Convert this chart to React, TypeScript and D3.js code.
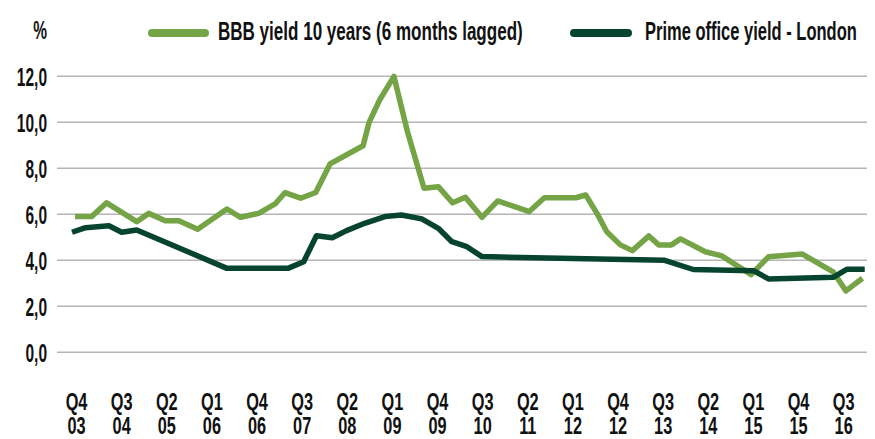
import React from "react";
import * as d3 from "d3";

// quarter index 0 = Q4 2003
const bbbYield: [number, number][] = [
  [-0.1, 5.9], [1.0, 5.9], [2.0, 6.5], [4.0, 5.68], [4.8, 6.04], [5.9, 5.72], [6.8, 5.72],
  [8.05, 5.35], [10.0, 6.23], [10.9, 5.87], [12.1, 6.04], [13.2, 6.45], [13.85, 6.94],
  [14.9, 6.7], [15.9, 6.95], [16.85, 8.19], [19.05, 8.98], [19.45, 10.0], [20.15, 10.97],
  [21.1, 12.0], [22.0, 9.59], [23.1, 7.13], [24.05, 7.2], [25.0, 6.5], [25.85, 6.74],
  [26.95, 5.87], [28.0, 6.58], [30.1, 6.12], [31.1, 6.72], [33.2, 6.72], [33.85, 6.84],
  [34.6, 6.04], [35.25, 5.24], [36.15, 4.67], [36.95, 4.42], [38.05, 5.06], [38.7, 4.67],
  [39.55, 4.67], [40.15, 4.93], [41.8, 4.37], [42.9, 4.19], [44.85, 3.38], [46.0, 4.15],
  [48.25, 4.27], [50.3, 3.5], [51.15, 2.67], [52.25, 3.22],
];

const primeOffice: [number, number][] = [
  [-0.3, 5.22], [0.6, 5.42], [2.15, 5.5], [3.0, 5.22], [4.0, 5.32], [10.0, 3.65],
  [14.05, 3.65], [15.1, 3.94], [15.95, 5.07], [17.0, 4.98], [17.95, 5.29], [19.15, 5.61],
  [20.5, 5.9], [21.6, 5.97], [22.95, 5.8], [24.05, 5.39], [24.95, 4.81], [25.95, 4.59],
  [26.95, 4.16], [39.1, 4.0], [41.0, 3.6], [45.0, 3.55], [46.0, 3.19], [50.3, 3.26],
  [51.2, 3.61], [52.4, 3.61],
];

const xTickLabels = [
  ["Q4", "03"], ["Q3", "04"], ["Q2", "05"], ["Q1", "06"], ["Q4", "06"], ["Q3", "07"],
  ["Q2", "08"], ["Q1", "09"], ["Q4", "09"], ["Q3", "10"], ["Q2", "11"], ["Q1", "12"],
  ["Q4", "12"], ["Q3", "13"], ["Q2", "14"], ["Q1", "15"], ["Q4", "15"], ["Q3", "16"],
];
const yTicks = [0, 2, 4, 6, 8, 10, 12];

const seriesNames = ["BBB yield 10 years (6 months lagged)", "Prime office yield - London"];

const GREEN = "#74a446";
const DARK = "#07442d";
const FONT = "'Liberation Sans', Arial, sans-serif";

// squeeze factor so a legend string fits the width seen in the reference
function fitScale(str: string, size: number, target: number) {
  const ctx = document.createElement("canvas").getContext("2d");
  if (!ctx) return 0.6;
  ctx.font = `bold ${size}px ${FONT}`;
  return target / ctx.measureText(str).width;
}

function Label({ x, y, anchor, children, sx = 0.68, size = 24 }: any) {
  return (
    <text
      transform={`translate(${x},${y}) scale(${sx},1)`}
      textAnchor={anchor}
      fontFamily={FONT}
      fontWeight="bold"
      fontSize={size}
      fill="#111"
    >
      {children}
    </text>
  );
}

export default function App() {
  const width = 875;
  const height = 439;
  const left = 57, right = 867, top = 76.3, bottom = 352.3;

  const x = d3.scaleLinear().domain([-1.3, 52.55]).range([left, right]);
  const y = d3.scaleLinear().domain([0, 12]).range([bottom, top]);

  const line = d3.line<[number, number]>().x((d) => x(d[0])).y((d) => y(d[1]));
  const fmt = (v: number) => d3.format(".1f")(v).replace(".", ",");

  const s1 = fitScale(seriesNames[0], 25, 305);
  const s2 = fitScale(seriesNames[1], 25, 212);

  return (
    <svg width={width} height={height} style={{ position: "absolute", left: 0, top: 0, background: "#fff" }}>
      {yTicks.map((t) => (
        <g key={t}>
          <line x1={left} x2={right} y1={y(t)} y2={y(t)} stroke="#b5b5b5" strokeWidth={1.5} />
          <Label x={47} y={y(t) + 9.2} anchor="end" sx={0.62} size={25}>{fmt(t)}</Label>
        </g>
      ))}
      <Label x={47} y={39} anchor="end" sx={0.62} size={25}>%</Label>

      {xTickLabels.map((lab, i) => (
        <text
          key={i}
          transform={`translate(${x(i * 3)},410) scale(0.68,1)`}
          textAnchor="middle"
          fontFamily={FONT}
          fontWeight="bold"
          fontSize={24}
          fill="#111"
        >
          <tspan x={0} y={0}>{lab[0]}</tspan>
          <tspan x={0} y={24}>{lab[1]}</tspan>
        </text>
      ))}

      <path d={line(bbbYield) || ""} fill="none" stroke={GREEN} strokeWidth={5.5} strokeLinejoin="round" />
      <path d={line(primeOffice) || ""} fill="none" stroke={DARK} strokeWidth={5.5} strokeLinejoin="round" />

      {/* legend */}
      <line x1={152} x2={205} y1={33} y2={33} stroke={GREEN} strokeWidth={8} strokeLinecap="round" />
      <Label x={218} y={40} anchor="start" sx={s1} size={25}>{seriesNames[0]}</Label>
      <line x1={574} x2={628} y1={33} y2={33} stroke={DARK} strokeWidth={8} strokeLinecap="round" />
      <Label x={645} y={40} anchor="start" sx={s2} size={25}>{seriesNames[1]}</Label>
    </svg>
  );
}
